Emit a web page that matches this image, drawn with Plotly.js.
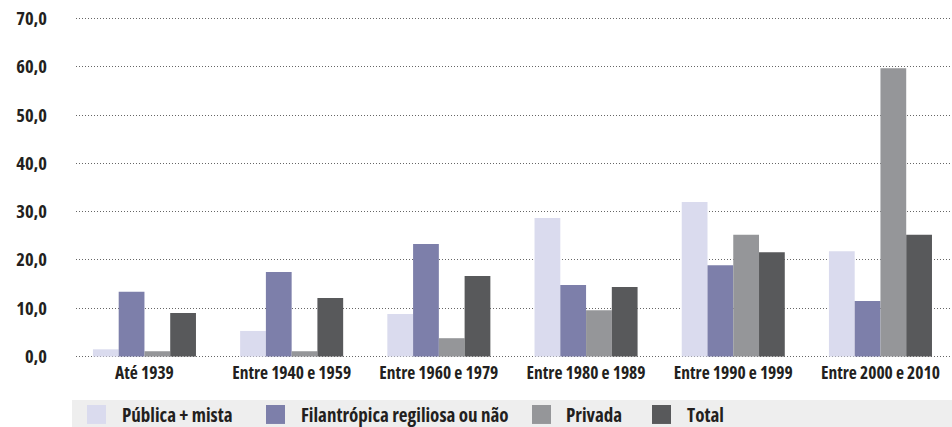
<!DOCTYPE html>
<html>
<head>
<meta charset="utf-8">
<script src="https://cdn.plot.ly/plotly-3.0.1.min.js"></script>
<style>
html,body{margin:0;padding:0;background:#fff;}
#chart{width:952px;height:427px;}
svg text{font-stretch:75% !important;}
</style>
</head>
<body>
<div id="chart"></div>
<script>
var categories = ['Até 1939','Entre 1940 e 1959','Entre 1960 e 1979','Entre 1980 e 1989','Entre 1990 e 1999','Entre 2000 e 2010'];
var seriesNames = ['Pública + mista','Filantrópica regiliosa ou não','Privada','Total'];
var publica = [1.5, 5.3, 8.8, 28.7, 32.0, 21.8];
var filantropica = [13.4, 17.5, 23.3, 14.8, 18.9, 11.5];
var privada = [1.1, 1.1, 3.8, 9.6, 25.2, 59.7];
var total = [9.0, 12.1, 16.7, 14.4, 21.6, 25.2];
var yTicks = [0, 10, 20, 30, 40, 50, 60, 70];

var colors = ['#dadbee', '#7d7faa', '#959699', '#58595b'];
var seriesValues = [publica, filantropica, privada, total];

var FONT = '"Open Sans", "DejaVu Sans", sans-serif';
var TXT = '#231f20';
var W = 952, H = 427;
var M = {l: 76, r: 0, t: 16.5, b: 69.05};
var pw = W - M.l - M.r, ph = H - M.t - M.b;
function px(x){ return (x - M.l) / pw; }
function py(y){ return (H - M.b - y) / ph; }

var traces = seriesValues.map(function(vals, i){
  return {
    type: 'bar',
    x: categories,
    y: vals,
    name: seriesNames[i],
    marker: {color: colors[i], line: {width: 0}},
    hoverinfo: 'x+y+name'
  };
});

// custom legend (grey band + swatches + labels)
var shapes = [{
  type: 'rect', xref: 'paper', yref: 'paper',
  x0: px(72), x1: px(953), y0: py(428), y1: py(400),
  fillcolor: '#eeeeee', line: {width: 0}, layer: 'below'
}];
var swatchX = [87, 266, 532, 652];
var textX = [120, 299, 564, 685];
var annotations = [];
for (var i = 0; i < seriesNames.length; i++) {
  shapes.push({
    type: 'rect', xref: 'paper', yref: 'paper',
    x0: px(swatchX[i]), x1: px(swatchX[i] + 19), y0: py(424), y1: py(405),
    fillcolor: colors[i], line: {width: 0}
  });
  annotations.push({
    xref: 'paper', yref: 'paper', x: px(textX[i]), y: py(415),
    xanchor: 'left', yanchor: 'middle', showarrow: false,
    text: seriesNames[i],
    font: {family: FONT, size: 19, color: TXT, weight: 'bold'}
  });
}

var layout = {
  width: W, height: H,
  margin: M,
  paper_bgcolor: '#ffffff', plot_bgcolor: '#ffffff',
  separators: ',.',
  barmode: 'group', bargap: 0.3, bargroupgap: 0,
  showlegend: false,
  font: {family: FONT, color: TXT},
  xaxis: {
    type: 'category',
    range: [-0.465, 5.486],
    showgrid: false, zeroline: false, showline: false,
    ticks: '', tickangle: 0,
    tickfont: {family: FONT, size: 17.5, color: TXT, weight: 'bold'},
    ticklabelstandoff: 2,
    fixedrange: true
  },
  yaxis: {
    range: [-0.3, 70.3],
    tickvals: yTicks,
    tickformat: '.1f',
    showgrid: true, gridcolor: '#666666', gridwidth: 1, griddash: '1px,2px',
    zeroline: false, showline: false, ticks: '',
    tickfont: {family: FONT, size: 18.5, color: TXT, weight: 'bold'},
    ticklabelstandoff: 28,
    fixedrange: true
  },
  shapes: shapes,
  annotations: annotations
};

Plotly.newPlot('chart', traces, layout, {displayModeBar: false, staticPlot: true});
</script>
</body>
</html>
